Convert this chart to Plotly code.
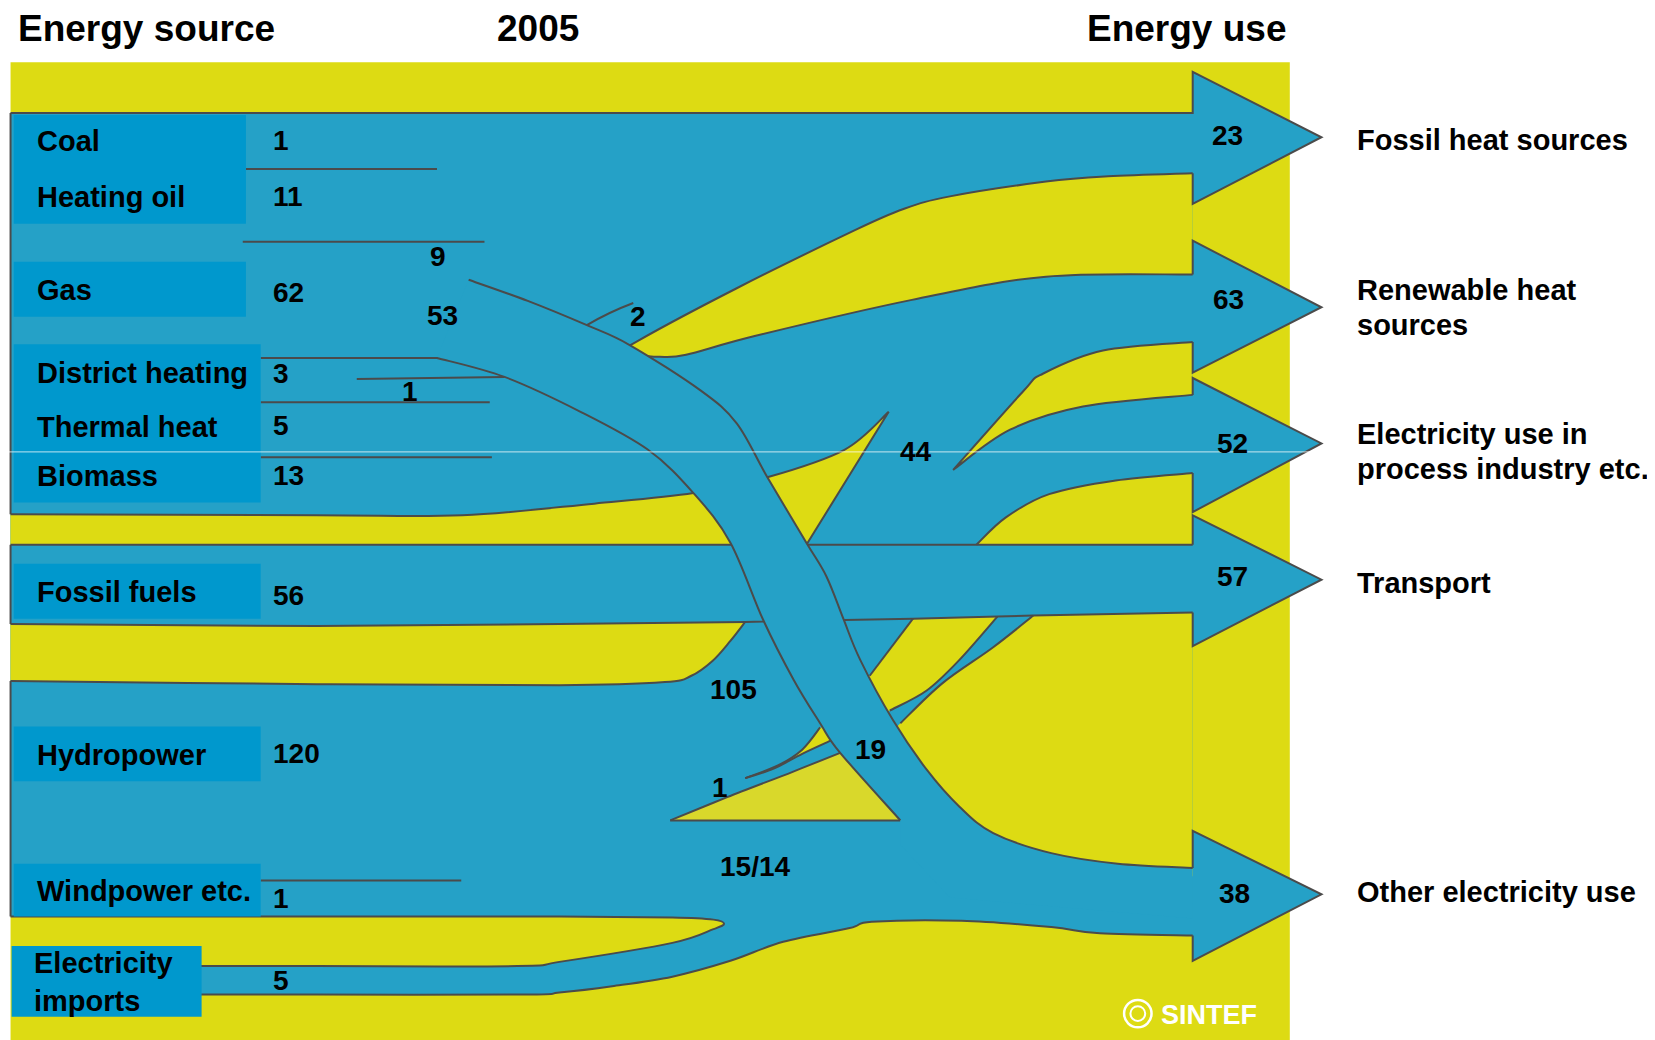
import plotly.graph_objects as go

# ---------------- data ----------------
SOURCE_LABELS = ["Coal", "Heating oil", "Gas", "District heating", "Thermal heat",
                 "Biomass", "Fossil fuels", "Hydropower", "Windpower etc.",
                 "Electricity<br>imports"]
SOURCE_VALUES = ["1", "11", "62", "3", "5", "13", "56", "120", "1", "5"]
USE_LABELS = ["Fossil heat sources", "Renewable heat<br>sources",
              "Electricity use in<br>process industry etc.", "Transport",
              "Other electricity use"]
USE_VALUES = ["23", "63", "52", "57", "38"]
FLOW_VALUES = ["9", "53", "1", "2", "44", "105", "19", "1", "15/14"]
TITLES = ["Energy source", "2005", "Energy use"]

# ---------------- layout grid (drawing units) ----------------
W, H = 1568, 985
OFF = 8 / 1.0555          # page body margin, in drawing units
BLUE = "#25A1C7"
BOX = "#0098CD"
YEL = "#DDDB13"
YEL2 = "#D9D82B"
EDGE = "#4B4B4B"

SRC_LABEL_Y = [134, 187, 275, 353, 404, 451, 561, 715, 844, 930]
SRC_VALUE_Y = [133, 186, 277, 354, 403, 450, 564, 714, 851, 929]
SRC_BOXES = [(13, 109, 233, 212), (13, 248, 233, 300), (13, 326, 247, 476),
             (13, 534, 247, 586), (13, 688, 247, 740), (13, 818, 247, 868),
             (11, 896, 191, 963)]
FLOW_XY = [(415, 243), (419, 299), (388, 371), (604, 300), (868, 428),
           (695, 653), (825, 710), (682, 746), (715, 821)]
USE_LABEL_X = 1284
USE_LABEL_Y = [(133,), (275, 308), (411, 444), (552,), (845,)]

BX, TX = 1130, 1252
# head top, tip, head bottom, shaft top, shaft bottom
ARROWS = [(68, 130, 193, 107, 164), (228, 291, 353, 260, 324),
          (358, 420, 485, 374, 448), (488, 549, 612, 516, 580),
          (787, 847, 910, 822, 886)]
USE_VALUE_XY = [(1163, 128), (1164, 284), (1168, 420), (1168, 546), (1170, 846)]

# flow edges
Y2_EDGE = [(1130, 164), (1050, 167), (991, 172), (900, 186), (856, 198), (810, 218),
           (698, 273), (604, 323), (597, 330), (606, 336), (625, 338), (650, 336),
           (716, 318), (864, 284), (991, 262), (1130, 260)]
Y3_TOP = [(1130, 324), (1045, 332), (988, 354), (969, 371), (903, 445)]
Y3_BOT = [(903, 445), (957, 407), (1026, 385), (1130, 374)]
Y4_TOP = [(1130, 448), (1057, 455), (994, 468), (953, 490), (925, 516)]
Y5_TOP = [(10, 487), (300, 488), (438, 488), (563, 477), (657, 467), (727, 452),
          (800, 426), (842, 390)]
FOSSIL_BOT = [(10, 591), (300, 593), (530, 591), (706, 589), (865, 586),
              (945, 584), (979, 583), (1130, 580)]
Y6_EDGE = [(706, 589), (692, 607), (675, 626), (655, 640), (630, 646), (530, 649),
           (300, 648), (10, 645)]
THIN_UP = [(945, 584), (909, 625), (878, 654), (843, 673)]
THIN_LO = [(979, 583), (941, 613), (893, 647), (853, 685)]
U_EDGE = [(444, 265), (500, 285), (556, 308), (597, 327), (664, 370), (698, 401),
          (727, 452), (764, 514), (783, 546), (799, 586), (815, 625), (846, 682),
          (878, 729), (909, 764), (941, 789), (996, 808), (1059, 818), (1130, 822)]
L_EDGE = [(414, 339), (478, 357), (550, 390), (614, 426), (657, 467), (692, 514),
          (723, 587), (752, 644), (777, 685), (796, 713), (853, 777)]
Y10_UP = [(706, 737), (737, 725), (760, 710), (777, 689)]
Y10_LO = [(788, 701), (760, 714), (733, 728), (706, 737)]
Y8_EDGE = [(635, 777), (689, 755), (751, 731), (796, 713)]
LENS = [(10, 868), (300, 868), (530, 868), (637, 869), (676, 871), (686, 875),
        (676, 880), (637, 893), (530, 911), (490, 915), (300, 915), (190, 915)]
A5_BOT = [(1130, 886), (1042, 884), (996, 878), (911, 872), (826, 873), (805, 879),
          (742, 892), (692, 910), (637, 925), (580, 934), (530, 940), (498, 942),
          (300, 942), (190, 942)]
SEPARATORS = [((233, 160), (414, 160)), ((230, 229), (459, 229)),
              ((338, 359), (478, 357)), ((247, 381), (464, 381)),
              ((247, 433), (466, 433)), ((247, 834), (437, 834))]


def smooth(pts, start=True):
    """Catmull-Rom spline through pts as an SVG path fragment."""
    out = [("M" if start else "L") + f"{pts[0][0]},{pts[0][1]}"]
    n = len(pts)
    for i in range(n - 1):
        p0, p1, p2, p3 = pts[max(i - 1, 0)], pts[i], pts[i + 1], pts[min(i + 2, n - 1)]
        c1 = (p1[0] + (p2[0] - p0[0]) / 6, p1[1] + (p2[1] - p0[1]) / 6)
        c2 = (p2[0] - (p3[0] - p1[0]) / 6, p2[1] - (p3[1] - p1[1]) / 6)
        out.append(f"C{c1[0]:.1f},{c1[1]:.1f} {c2[0]:.1f},{c2[1]:.1f} {p2[0]},{p2[1]}")
    return " ".join(out)


def poly(pts, start=True):
    s = ("M" if start else "L") + f"{pts[0][0]},{pts[0][1]}"
    return s + "".join(f" L{x},{y}" for x, y in pts[1:])


def arrow_pts(a):
    ht, tip, hb, st, sb = a
    return [(BX, st), (BX, ht), (TX, tip), (BX, hb), (BX, sb)]


shapes = []


def fill(path, color):
    shapes.append(dict(type="path", path=path, xref="x", yref="y",
                       fillcolor=color, line=dict(width=0), layer="above"))


def stroke(path, color=EDGE, width=2):
    shapes.append(dict(type="path", path=path, xref="x", yref="y",
                       fillcolor="rgba(0,0,0,0)", line=dict(color=color, width=width),
                       layer="above"))


# background panel
shapes.append(dict(type="rect", xref="x", yref="y", x0=10, y0=59, x1=1222, y1=H + 10,
                   fillcolor=YEL, line=dict(width=0), layer="above"))

# main blue body with arrow heads
body = [(10, 107), (BX, 107)]
for a in ARROWS:
    ht, tip, hb, st, sb = a
    body += [(BX, ht), (TX, tip), (BX, hb)]
p_main = poly(body) + " " + smooth(A5_BOT, start=False) + " L190,915 " \
    + smooth(LENS[::-1], start=False) + " Z"
fill(p_main, BLUE)

# yellow gaps
fill(smooth(Y2_EDGE) + " Z", YEL)
fill(smooth(Y3_TOP) + " " + smooth(Y3_BOT, start=False) + " Z", YEL)
fill(smooth(Y4_TOP) + " L1130,516 Z", YEL)
fill(smooth(Y5_TOP) + " L764,516 L10,516 Z", YEL)
fill(poly(FOSSIL_BOT[:4]) + " " + smooth(Y6_EDGE, start=False) + " Z", YEL)
fill("M865,586 L945,584 " + smooth(THIN_UP, start=False) + " L830,683 L812,642 L824,640 Z", YEL)
u_tail = [(x - 8, y + 8) for x, y in U_EDGE[12:-1]] + [(BX, U_EDGE[-1][1] + 8)]
fill("M1130,580 L979,583 " + smooth(THIN_LO, start=False) + " L846,692 "
     + poly(u_tail, start=False) + " Z", YEL)
fill(smooth(Y8_EDGE) + " L808,706 L865,770 L853,777 Z", YEL2)
fill(smooth(Y10_UP) + " L790,690 L800,702 " + smooth(Y10_LO, start=False) + " Z", YEL)

# outlines under the crossing band
stroke("M10,107 L10,487")
stroke("M10,516 L10,591")
stroke("M10,645 L10,868")
stroke(poly([(10, 107)] + arrow_pts(ARROWS[0])))
for a in ARROWS[1:]:
    stroke(poly(arrow_pts(a)))
stroke(smooth(Y2_EDGE))
stroke(smooth(Y3_TOP) + " " + smooth(Y3_BOT, start=False))
stroke(smooth(Y4_TOP))
stroke("M10,516 L1130,516")
stroke(smooth(Y5_TOP) + " L764,516")
stroke(poly(FOSSIL_BOT))
stroke(smooth(Y6_EDGE))
stroke("M865,586 L824,640")
stroke(smooth(THIN_UP))
stroke(smooth(THIN_LO))
stroke(smooth(Y10_UP))
stroke(smooth(Y10_LO))
stroke(smooth(Y8_EDGE))
stroke("M635,777 L853,777")
stroke(smooth(LENS))
stroke(smooth(A5_BOT))
for (x0, y0), (x1, y1) in SEPARATORS:
    stroke(f"M{x0},{y0} L{x1},{y1}")
stroke("M556,308 Q576,296 600,287")

# the crossing band (gas to other electricity use)
fill(smooth(U_EDGE) + " L1130,870 L900,850 L853,800 " + smooth(L_EDGE[::-1], start=False) + " Z", BLUE)
stroke(smooth(U_EDGE))
stroke("M247,339 " + smooth(L_EDGE, start=False))

# source label boxes
for x0, y0, x1, y1 in SRC_BOXES:
    shapes.append(dict(type="rect", xref="x", yref="y", x0=x0, y0=y0, x1=x1, y1=y1,
                       fillcolor=BOX, line=dict(width=0), layer="above"))

# scan artefact line and logo ring
stroke(f"M0,428 L{W + 20},428", color="rgba(255,255,255,0.75)", width=1)
shapes.append(dict(type="circle", xref="x", yref="y", x0=1065, y0=947, x1=1091, y1=973,
                   line=dict(color="white", width=2.5), layer="above"))
shapes.append(dict(type="circle", xref="x", yref="y", x0=1071, y0=953, x1=1085, y1=967,
                   line=dict(color="white", width=2), layer="above"))

# ---------------- text ----------------
SANS = "Liberation Sans, Arial, sans-serif"
ann = []


def text(x, y, s, size, anchor="left", color="black"):
    ann.append(dict(x=x, y=y, xref="x", yref="y", text=f"<b>{s}</b>", showarrow=False,
                    xanchor=anchor, yanchor="middle", align=anchor,
                    font=dict(family=SANS, size=size, color=color)))


text(15, 27, TITLES[0], 37)
text(510, 27, TITLES[1], 37, anchor="center")
text(1220, 27, TITLES[2], 37, anchor="right")

for i, lab in enumerate(SOURCE_LABELS):
    x = 30 if i == len(SOURCE_LABELS) - 1 else 33
    text(x, SRC_LABEL_Y[i], lab, 29)
    text(257, SRC_VALUE_Y[i], SOURCE_VALUES[i], 28)

for (x, y), v in zip(FLOW_XY, FLOW_VALUES):
    text(x, y, v, 28, anchor="center")

for lab, ys in zip(USE_LABELS, USE_LABEL_Y):
    for line, y in zip(lab.split("<br>"), ys):
        text(USE_LABEL_X, y, line, 29)
for (x, y), v in zip(USE_VALUE_XY, USE_VALUES):
    text(x, y, v, 28, anchor="center")

text(1098, 961, "SINTEF", 27, color="white")

fig = go.Figure(go.Scatter(x=[], y=[]))
fig.update_layout(
    width=1655, height=1040, margin=dict(l=0, r=0, t=0, b=0),
    paper_bgcolor="white", plot_bgcolor="white", showlegend=False,
    xaxis=dict(range=[OFF, W + OFF], visible=False, fixedrange=True),
    yaxis=dict(range=[H + OFF, OFF], visible=False, fixedrange=True),
    shapes=shapes, annotations=ann,
)
fig.write_html("out.html")
